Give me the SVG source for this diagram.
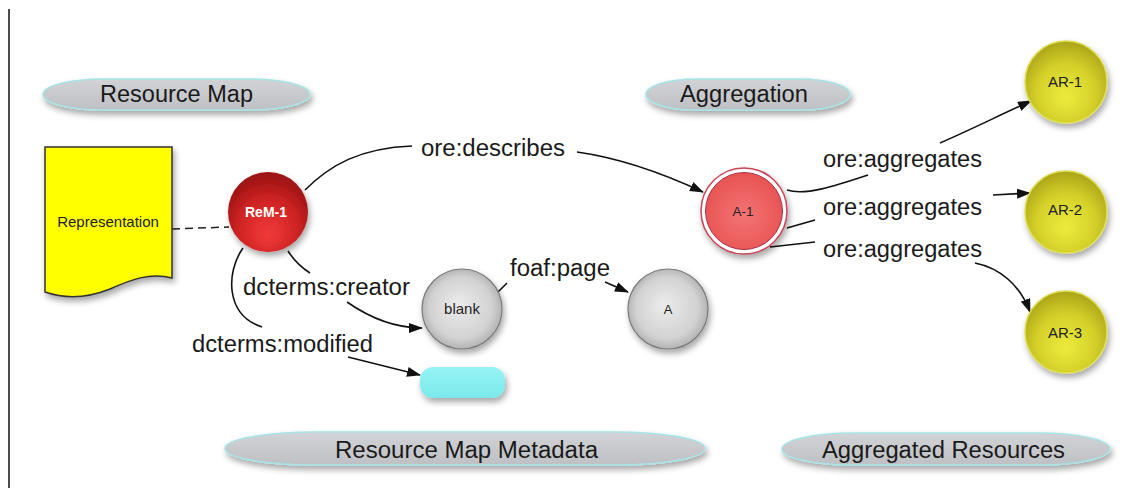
<svg xmlns="http://www.w3.org/2000/svg" width="1135" height="495" viewBox="0 0 1135 495">
<defs>
  <style>
    .lbl { font-family: "Liberation Sans", Arial, sans-serif; font-size: 23.5px; fill: #1a1a1a; }
    .node-txt { font-family: "Liberation Sans", Arial, sans-serif; fill: #222; text-anchor: middle; }
    .pill { fill: url(#pillGrad); stroke: #a6e4e6; stroke-width: 1.5; filter: url(#shadow); }
    .edge { fill: none; stroke: #111; stroke-width: 1.6; }
  </style>
  <filter id="shadow" x="-20%" y="-30%" width="140%" height="180%">
    <feDropShadow dx="2" dy="4" stdDeviation="3" flood-color="#000" flood-opacity="0.35"/>
  </filter>
  <linearGradient id="pillGrad" x1="0" y1="0" x2="0" y2="1">
    <stop offset="0" stop-color="#d2d3d6"/>
    <stop offset="1" stop-color="#bfc0c4"/>
  </linearGradient>
  <radialGradient id="redGrad" cx="0.5" cy="0.65" r="0.6" fx="0.5" fy="0.8">
    <stop offset="0" stop-color="#f23a3a"/>
    <stop offset="0.6" stop-color="#d02424"/>
    <stop offset="1" stop-color="#9e1414"/>
  </radialGradient>
  <radialGradient id="pinkGrad" cx="0.5" cy="0.55" r="0.6">
    <stop offset="0" stop-color="#f47474"/>
    <stop offset="1" stop-color="#e65050"/>
  </radialGradient>
  <radialGradient id="grayGrad" cx="0.5" cy="0.5" r="0.55" fx="0.45" fy="0.45">
    <stop offset="0" stop-color="#ececec"/>
    <stop offset="0.7" stop-color="#d2d2d2"/>
    <stop offset="1" stop-color="#a8a8a8"/>
  </radialGradient>
  <radialGradient id="yellowGrad" cx="0.5" cy="0.6" r="0.6" fx="0.5" fy="0.7">
    <stop offset="0" stop-color="#ecec3c"/>
    <stop offset="0.6" stop-color="#d4d02a"/>
    <stop offset="1" stop-color="#aaa418"/>
  </radialGradient>
  <linearGradient id="cyanGrad" x1="0" y1="0" x2="0" y2="1">
    <stop offset="0" stop-color="#96f4f6"/>
    <stop offset="1" stop-color="#7ce8ea"/>
  </linearGradient>
  <marker id="arrow" markerWidth="14" markerHeight="10" refX="13" refY="5" orient="auto" markerUnits="userSpaceOnUse">
    <path d="M0,0 L14,5 L0,10 Z" fill="#111"/>
  </marker>
</defs>

<rect x="0" y="0" width="1135" height="495" fill="#ffffff"/>
<line x1="9" y1="9" x2="9" y2="488" stroke="#111" stroke-width="1.5"/>

<!-- group labels (pills) -->
<g id="pill-resource-map">
  <rect class="pill" x="43" y="79" width="267" height="31" rx="60" ry="15.5"/>
  <text class="lbl" x="100" y="102" textLength="153" lengthAdjust="spacingAndGlyphs">Resource Map</text>
</g>
<g id="pill-aggregation">
  <rect class="pill" x="646" y="79" width="204" height="31" rx="50" ry="15.5"/>
  <text class="lbl" x="680" y="102" textLength="128" lengthAdjust="spacingAndGlyphs">Aggregation</text>
</g>
<g id="pill-resource-map-metadata">
  <rect class="pill" x="225" y="432" width="480" height="33" rx="90" ry="16.5"/>
  <text class="lbl" x="335" y="458" textLength="263" lengthAdjust="spacingAndGlyphs">Resource Map Metadata</text>
</g>
<g id="pill-aggregated-resources">
  <rect class="pill" x="782" y="433" width="328" height="32" rx="70" ry="16"/>
  <text class="lbl" x="822" y="458" textLength="243" lengthAdjust="spacingAndGlyphs">Aggregated Resources</text>
</g>

<!-- connectors -->
<g id="connectors">
  <path d="M172,229 L229,227" fill="none" stroke="#222" stroke-width="1.5" stroke-dasharray="8,5"/>
  <!-- ore:describes -->
  <path class="edge" d="M305,190 C330,165 360,148 412,146"/>
  <path class="edge" d="M577,152 C620,158 660,172 703,192" marker-end="url(#arrow)"/>
  <!-- ore:aggregates 1 -->
  <path class="edge" d="M787,190 C805,196 835,186 868,175"/>
  <path class="edge" d="M940,143 C970,130 1000,115 1031,101" marker-end="url(#arrow)"/>
  <!-- ore:aggregates 2 -->
  <path class="edge" d="M787,228 L815,220"/>
  <path class="edge" d="M993,195 L1030,193" marker-end="url(#arrow)"/>
  <!-- ore:aggregates 3 -->
  <path class="edge" d="M770,247 L815,242"/>
  <path class="edge" d="M975,263 C1000,268 1020,285 1030,312" marker-end="url(#arrow)"/>
  <!-- foaf:page -->
  <path class="edge" d="M498,292 L507,283"/>
  <path class="edge" d="M605,282 L628,292" marker-end="url(#arrow)"/>
  <!-- dcterms:creator -->
  <path class="edge" d="M288,251 C295,262 302,268 310,273"/>
  <path class="edge" d="M347,302 C370,318 395,328 422,328" marker-end="url(#arrow)"/>
  <!-- dcterms:modified -->
  <path class="edge" d="M243,248 C226,272 225,315 262,327"/>
  <path class="edge" d="M348,357 L420,375" marker-end="url(#arrow)"/>
</g>

<!-- connector labels -->
<g id="edge-labels">
  <text class="lbl" x="421" y="156" textLength="144" lengthAdjust="spacingAndGlyphs">ore:describes</text>
  <text class="lbl" x="823" y="167" textLength="159" lengthAdjust="spacingAndGlyphs">ore:aggregates</text>
  <text class="lbl" x="823" y="215" textLength="159" lengthAdjust="spacingAndGlyphs">ore:aggregates</text>
  <text class="lbl" x="823" y="257" textLength="159" lengthAdjust="spacingAndGlyphs">ore:aggregates</text>
  <text class="lbl" x="510" y="276" textLength="100" lengthAdjust="spacingAndGlyphs">foaf:page</text>
  <text class="lbl" x="243" y="295" textLength="167" lengthAdjust="spacingAndGlyphs">dcterms:creator</text>
  <text class="lbl" x="192" y="352" textLength="181" lengthAdjust="spacingAndGlyphs">dcterms:modified</text>
</g>

<!-- nodes -->
<g id="node-representation">
  <path d="M45,147 H172 V278 C150,272 130,280 110,289 C90,297 68,300 45,292 Z" fill="#ffff00" stroke="#333" stroke-width="1.5" filter="url(#shadow)"/>
  <text class="node-txt" x="108" y="227" font-size="15">Representation</text>
</g>
<g id="node-rem-1">
  <circle cx="268" cy="212" r="40" fill="url(#redGrad)" filter="url(#shadow)"/>
  <text class="node-txt" x="266" y="217" font-size="14" font-weight="bold" fill="#ffffff" style="fill:#ffffff">ReM-1</text>
</g>
<g id="node-a-1">
  <circle cx="744" cy="211" r="43" fill="#ffffff" stroke="#c84458" stroke-width="1.5" filter="url(#shadow)"/>
  <circle cx="744" cy="211" r="38.5" fill="url(#pinkGrad)" stroke="#a83040" stroke-width="1"/>
  <text class="node-txt" x="743" y="216" font-size="13.5">A-1</text>
</g>
<g id="node-blank">
  <circle cx="462" cy="309" r="40" fill="url(#grayGrad)" stroke="#7a7a7a" stroke-width="1.2" filter="url(#shadow)"/>
  <text class="node-txt" x="462" y="314" font-size="15">blank</text>
</g>
<g id="node-a">
  <circle cx="668" cy="309" r="40" fill="url(#grayGrad)" stroke="#7a7a7a" stroke-width="1.2" filter="url(#shadow)"/>
  <text class="node-txt" x="668" y="314" font-size="13">A</text>
</g>
<g id="node-literal">
  <rect x="420" y="367" width="85" height="31" rx="13" fill="url(#cyanGrad)" filter="url(#shadow)"/>
</g>
<g id="node-ar-1">
  <circle cx="1066" cy="82" r="41" fill="url(#yellowGrad)" stroke="#dede50" stroke-width="1.5" filter="url(#shadow)"/>
  <text class="node-txt" x="1065" y="87" font-size="15">AR-1</text>
</g>
<g id="node-ar-2">
  <circle cx="1066" cy="212" r="41" fill="url(#yellowGrad)" stroke="#dede50" stroke-width="1.5" filter="url(#shadow)"/>
  <text class="node-txt" x="1065" y="215" font-size="15">AR-2</text>
</g>
<g id="node-ar-3">
  <circle cx="1066" cy="332" r="41" fill="url(#yellowGrad)" stroke="#dede50" stroke-width="1.5" filter="url(#shadow)"/>
  <text class="node-txt" x="1065" y="338" font-size="15">AR-3</text>
</g>
</svg>
